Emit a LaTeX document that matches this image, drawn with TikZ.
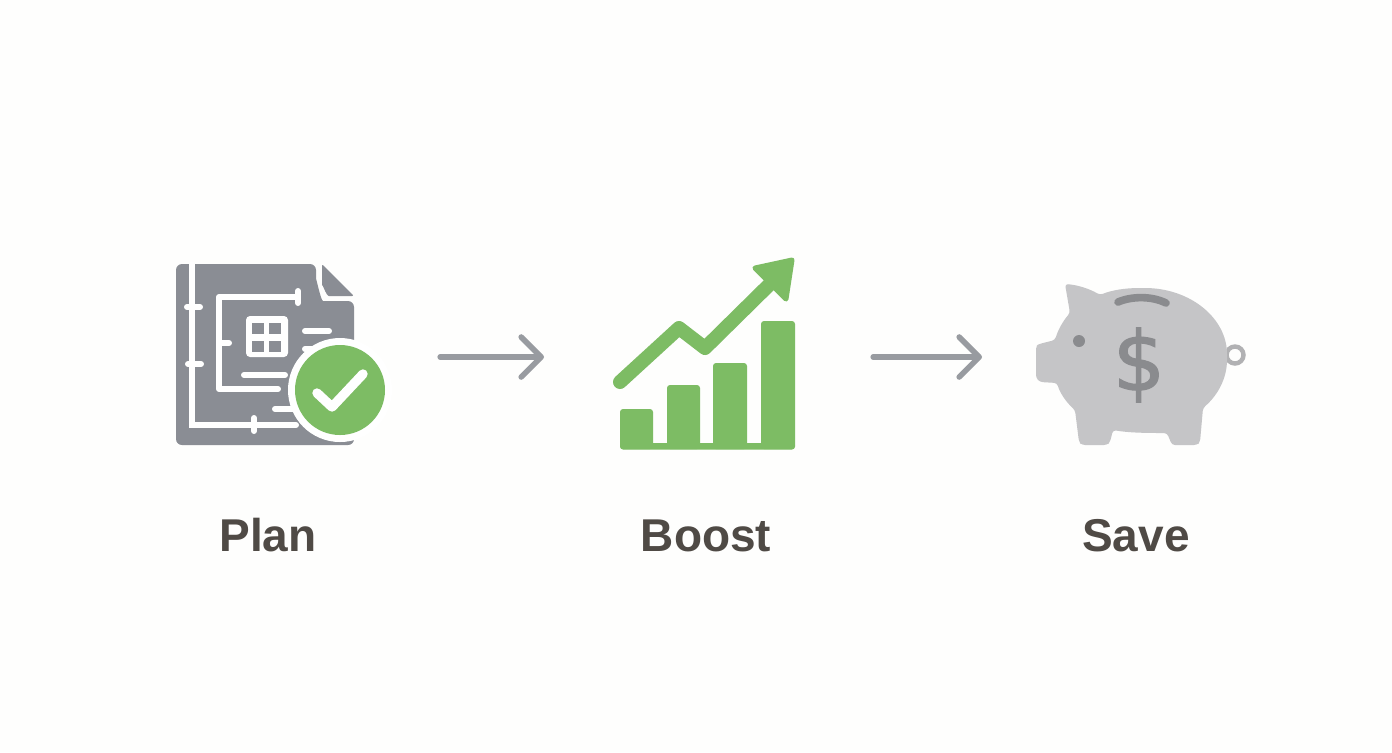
\documentclass[tikz,border=0pt]{standalone}
\usepackage{fontspec}
\setmainfont{Liberation Sans}
\newfontfamily\dollarfont[FakeBold=1.6]{DejaVu Sans}
\usetikzlibrary{arrows.meta}
\definecolor{sheetgray}{HTML}{8A8D94}
\definecolor{leafgreen}{HTML}{7DBC64}
\definecolor{piggray}{HTML}{C5C5C7}
\definecolor{pigdark}{HTML}{8A8B8E}
\definecolor{arrowgray}{HTML}{989BA0}
\definecolor{labelbrown}{HTML}{4F4A45}
\definecolor{pagewhite}{HTML}{FEFEFD}
\tikzset{
	steplabel/.style={font=\bfseries\fontsize{23}{26}\selectfont, text=labelbrown, anchor=base, inner sep=0pt},
	planline/.style={draw=white, line width=3pt, line cap=round},
	flowarrow/.style={draw=arrowgray, line width=2.6pt, line cap=round,
			-{Straight Barb[length=10pt, width=20pt, round, line width=2.8pt]}}
}

\begin{document}
\begin{tikzpicture}[x=0.5pt, y=-0.5pt]
	% Page
	\fill[pagewhite] (0,0) rectangle (1392,752);

	% Plan icon: sheet and folded corner
	\fill[sheetgray, rounded corners=3pt] (176,264) -- (316,264) -- (316,285) to[out=90, in=180] (329,301) -- (354,301) -- (354,445) -- (176,445) -- cycle;
	\fill[sheetgray, rounded corners=1pt] (322,264) -- (354,296) -- (331,296) to[out=180, in=90] (322,287) -- cycle;

	% Plan icon: outer wall and its ticks
	\draw[planline] (192,264) -- (192,425) -- (296,425);
	\draw[planline] (187,307) -- (200,307);
	\draw[planline] (188,364) -- (201,364);
	\draw[planline] (254,418) -- (254,431);

	% Plan icon: inner room
	\draw[planline, line join=round] (298,297) -- (219,297) -- (219,389) -- (278,389);
	\draw[planline] (298,291) -- (298,303);
	\draw[planline] (219,343) -- (229,343);
	\draw[planline] (244,375) -- (285,375);
	\draw[planline] (305,331) -- (329,331);
	\draw[planline] (305,349) -- (320,349);
	\draw[planline] (275,409) -- (296,409);

	% Plan icon: window
	\fill[white, rounded corners=2pt] (246,316) rectangle (288,357);
	\foreach \panex in {252,269}
		\foreach \paney in {323,341}
			\fill[sheetgray] (\panex,\paney) rectangle ++(11.5,11);

	% Plan icon: badge
	\fill[white] (340,390) circle[radius=52];
	\fill[leafgreen] (340,390) circle[radius=45];
	\draw[white, line width=4.7pt, line cap=round, line join=round] (317,393) -- (332,407) -- (363,374);

	% Boost icon: bars
	\fill[leafgreen, rounded corners=1.5pt] (620,443) rectangle (795,449.5);
	\foreach \barleft/\barright/\bartop in {620/653/409, 667/700/385, 713/747/363, 761/795/321}
		\fill[leafgreen, rounded corners=1.5pt] (\barleft,\bartop) rectangle (\barright,449);

	% Boost icon: rising arrow
	\draw[leafgreen, line width=7pt, line cap=round, line join=round] (620,382) -- (679,328) -- (705,348) -- (772,282);
	\filldraw[leafgreen, line width=2.5pt, line join=round] (755,268) -- (792,260) -- (786,299) -- cycle;

	% Save icon: tail and body
	\draw[piggray!90!black, line width=2.2pt] (1235,355) circle[radius=8.5];
	\fill[piggray, rounded corners=1.5pt] (1065,284) .. controls (1078,285) and (1090,289) .. (1100,295)
		.. controls (1112,290) and (1126,288) .. (1142,288)
		.. controls (1190,288) and (1227,318) .. (1227,357)
		.. controls (1227,378) and (1218,395) .. (1203,408)
		-- (1200,442) -- (1197,445) -- (1172,445) -- (1167,433)
		.. controls (1150,433) and (1130,433) .. (1113,430)
		-- (1110,442) -- (1107,445) -- (1082,445) -- (1079,442) -- (1075,410)
		.. controls (1066,402) and (1060,393) .. (1057,383)
		-- (1040,382) -- (1036,378) -- (1036,346) -- (1039,344) -- (1055,340)
		.. controls (1058,330) and (1063,321) .. (1070,313) -- cycle;

	% Save icon: slot, eye and dollar sign
	\draw[pigdark, line width=3.8pt, line cap=round] (1118,302) .. controls (1132,296) and (1152,296) .. (1166,303);
	\fill[pigdark] (1079,341) circle[radius=6];
	\node[text=pigdark, inner sep=0pt, font=\dollarfont\fontsize{41}{44}\selectfont] (dollar) at (1139,365) {\$};

	% Labels
	\node[steplabel] (plan) at (268,551) {Plan};
	\node[steplabel] (boost) at (706,551) {Boost};
	\node[steplabel] (save) at (1136,551) {Save};

	% Arrows between the steps
	\coordinate (planout) at (440,357);
	\coordinate (boostin) at (544,357);
	\coordinate (boostout) at (873,357);
	\coordinate (savein) at (982,357);
	\draw[flowarrow] (planout) -- (boostin);
	\draw[flowarrow] (boostout) -- (savein);
\end{tikzpicture}
\end{document}
